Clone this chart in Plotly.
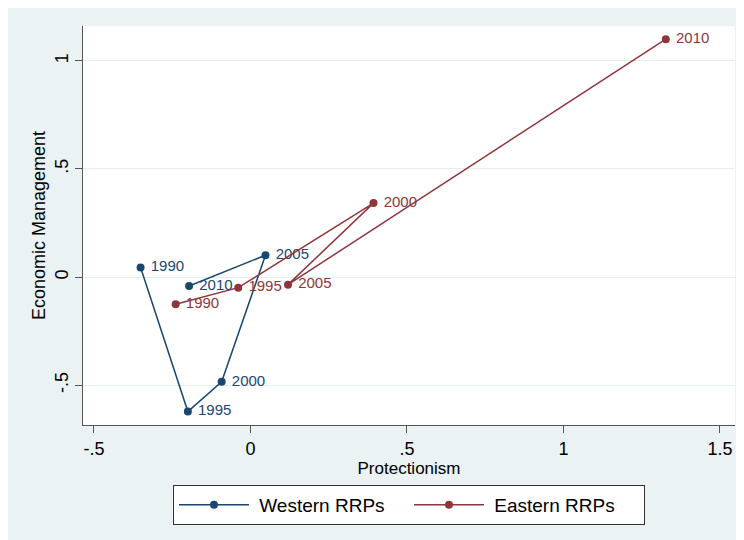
import plotly.graph_objects as go

years = ["1990", "1995", "2000", "2005", "2010"]
west_x = [-0.351, -0.200, -0.092, 0.048, -0.196]
west_y = [0.044, -0.622, -0.484, 0.101, -0.041]
east_x = [-0.239, -0.039, 0.393, 0.120, 1.327]
east_y = [-0.126, -0.049, 0.342, -0.035, 1.100]

x_ticks = [-0.5, 0, 0.5, 1, 1.5]
x_tick_text = ["-.5", "0", ".5", "1", "1.5"]
y_ticks = [-0.5, 0, 0.5, 1]
y_tick_text = ["-.5", "0", ".5", "1"]

NAVY = "#1a476f"
MAROON = "#90353b"
BG = "#eaf2f3"
FONT = "Liberation Sans, Arial, sans-serif"

fig = go.Figure()
for name, xs, ys, col in [(" Western RRPs", west_x, west_y, NAVY),
                          (" Eastern RRPs", east_x, east_y, MAROON)]:
    fig.add_trace(go.Scatter(
        x=xs, y=ys, mode="lines+markers+text", name=name,
        text=[" " + y for y in years], textposition="middle right",
        textfont=dict(family=FONT, size=15, color=col),
        line=dict(color=col, width=1.5),
        marker=dict(color=col, size=8),
    ))

L, R, T, B = 75, 17, 18, 123
W, H = 744, 540
ph = H - T - B

fig.update_layout(
    width=W, height=H,
    margin=dict(l=L, r=R, t=T, b=B, autoexpand=False),
    paper_bgcolor=BG, plot_bgcolor="white",
    font=dict(family=FONT, size=15, color="#000"),
    showlegend=True,
    legend=dict(
        orientation="h", x=0.5, xanchor="center",
        y=(H - B - 477) / ph, yanchor="top",
        bgcolor="white", bordercolor="#333", borderwidth=1,
        font=dict(family=FONT, size=19, color="#000"),
        itemwidth=70, entrywidth=150, tracegroupgap=0,
    ),
    xaxis=dict(
        range=[-0.535, 1.548], tickvals=x_ticks, ticktext=x_tick_text,
        showgrid=False, zeroline=False,
        showline=True, linecolor="#555", linewidth=1,
        ticks="outside", ticklen=7, tickcolor="#555",
        tickfont=dict(size=18),
        title=dict(text="Protectionism", font=dict(size=17), standoff=0),
    ),
    yaxis=dict(
        range=[-0.684, 1.161], tickvals=y_ticks, ticktext=y_tick_text,
        showgrid=True, gridcolor="#e4eef0", gridwidth=1, zeroline=False,
        showline=True, linecolor="#555", linewidth=1,
        ticks="outside", ticklen=7, tickcolor="#555",
        tickangle=-90, tickfont=dict(size=18),
        title=dict(text="Economic Management", font=dict(size=18), standoff=1),
    ),
)

fig.write_html("out.html")
